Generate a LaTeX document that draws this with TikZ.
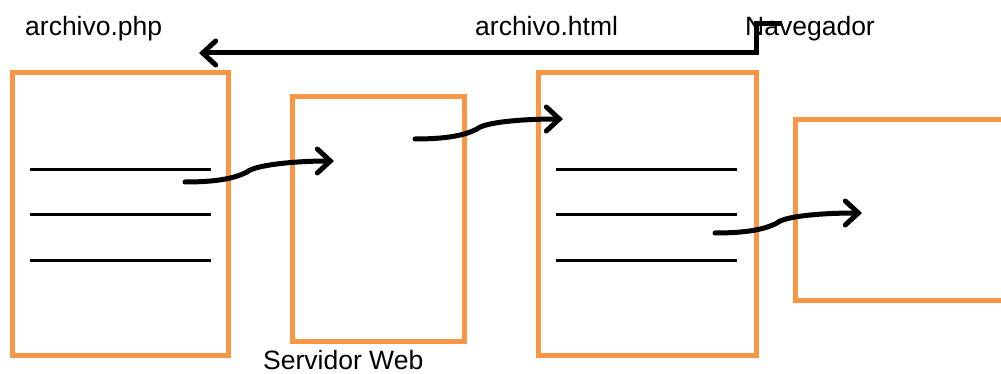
\documentclass[tikz,border=0pt]{standalone}
\usepackage{fontspec}
\setmainfont{Liberation Sans}
\usetikzlibrary{positioning,arrows.meta,calc}
\definecolor{BoxOrange}{RGB}{247,150,70}

\begin{document}
\begin{tikzpicture}[
    x=1pt, y=-1pt,
    every node/.style={font=\fontsize{26.5}{30}\selectfont, inner sep=0pt},
    box/.style={draw=BoxOrange, line width=5pt, minimum width=#1},
    rule/.style={draw, line width=3pt},
    flow/.style={draw, line width=5pt, line cap=round, line join=round,
        -{Straight Barb[length=13pt, width=24pt, line cap=round]}},
]
\useasboundingbox[fill=white] (0,0) rectangle (1001,374);
% the four pages
\node[box=216pt, minimum height=282pt] (php) at (120,214) {};
\node[box=172pt, minimum height=244pt] (servidor) at (378,219) {};
\node[box=218pt, minimum height=282pt] (html) at (647,214) {};
\node[box=220pt, minimum height=181pt] (navegador) at (905,210) {};
\foreach \y in {170,215,260} {
    \draw[rule] (30,\y) -- (211,\y);
    \draw[rule] (556,\y) -- (737,\y);
}
% labels
\node[anchor=base west] (lblphp) at (25,36) {archivo.php};
\node[anchor=base west] (lblhtml) at (475,36) {archivo.html};
\node[anchor=base west] (lblnav) at (745,36) {Navegador};
\node[anchor=base west] (lblweb) at (263,369) {Servidor Web};
% flow of the file
\coordinate (php out) at (185,182);
\coordinate (srv in) at (334,161);
\coordinate (srv out) at (415,139);
\coordinate (html in) at (563,119);
\coordinate (html out) at (715,233);
\coordinate (nav in) at (862,213);
\coordinate (ret start) at (782,24);
\coordinate (ret end) at (199,53);
\draw[flow] (php out) .. controls +(40,0) and +(-8,4) .. ++(62,-10)
    .. controls +(8,-7) and +(-40,0) .. (srv in);
\draw[flow] (srv out) .. controls +(40,0) and +(-8,4) .. ++(62,-10)
    .. controls +(8,-7) and +(-40,0) .. (html in);
\draw[flow] (html out) .. controls +(40,0) and +(-8,4) .. ++(62,-10)
    .. controls +(8,-7) and +(-40,0) .. (nav in);
\draw[flow, line cap=butt, line join=miter] (ret start) -- (756,24) |- (ret end);
\end{tikzpicture}
\end{document}
